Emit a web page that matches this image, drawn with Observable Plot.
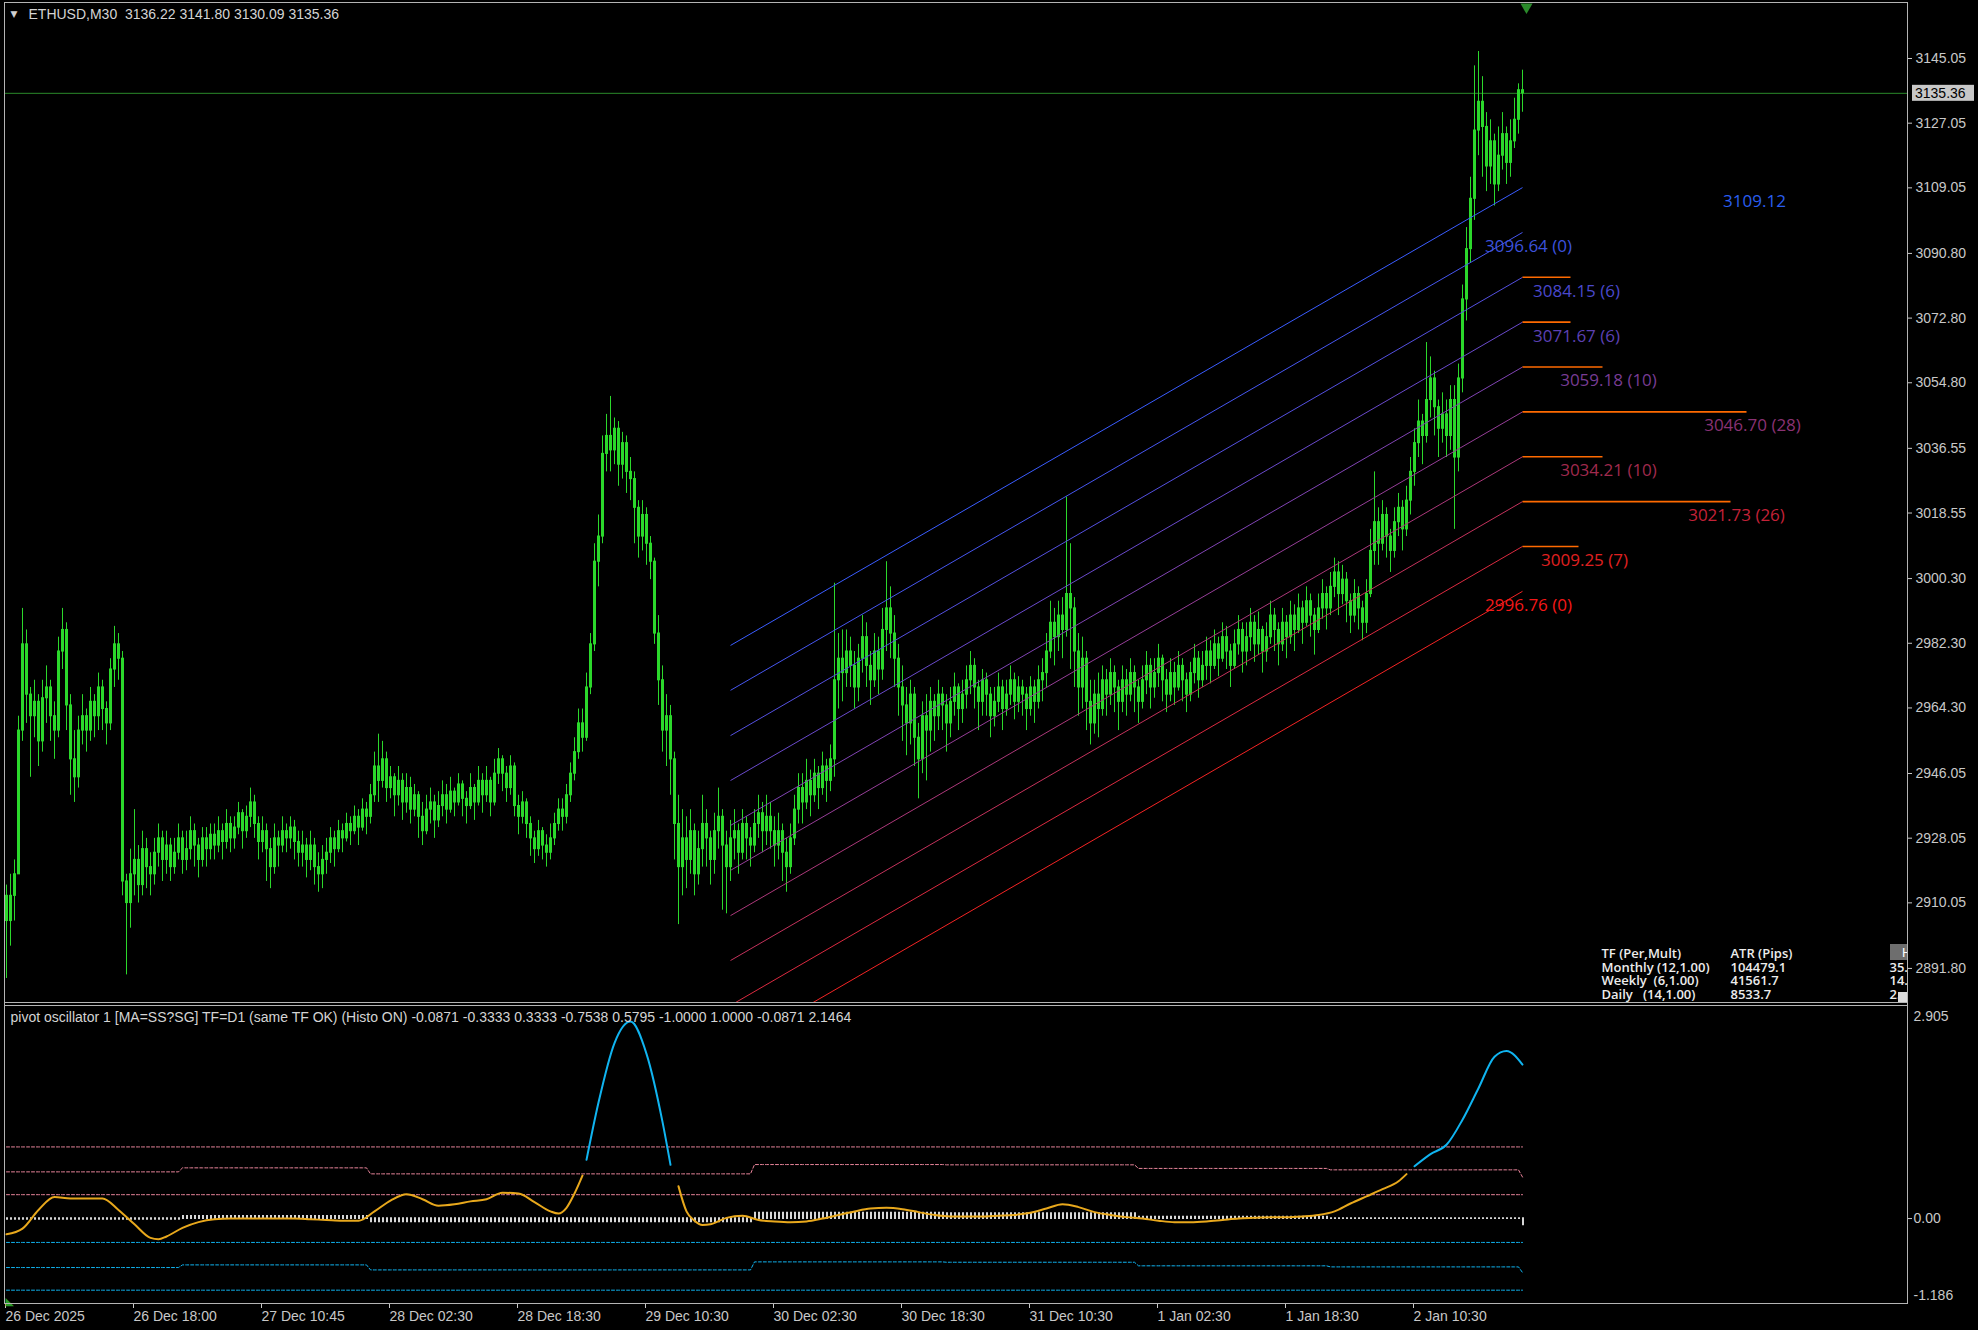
<!DOCTYPE html>
<html><head><meta charset="utf-8">
<script src="https://cdn.jsdelivr.net/npm/d3@7"></script>
<script src="https://cdn.jsdelivr.net/npm/@observablehq/plot@0.6"></script>
<style>
html,body{margin:0;padding:0;background:#000;}
#wrap{position:relative;width:1978px;height:1330px;background:#000;overflow:hidden;}
#wrap svg{position:absolute;left:0;}
.ln{position:absolute;background:#b4b4b4;}
</style></head><body><div id="wrap"></div>
<script>
// ---------------- data ----------------
const symbolName = "ETHUSD,M30";
const timeLabels = ["26 Dec 2025","26 Dec 18:00","27 Dec 10:45","28 Dec 02:30","28 Dec 18:30","29 Dec 10:30","30 Dec 02:30","30 Dec 18:30","31 Dec 10:30","1 Jan 02:30","1 Jan 18:30","2 Jan 10:30"];
const timeTickBars = [0,32,64,96,128,160,192,224,256,288,320,352];
const priceTicks = [3145.05,3127.05,3109.05,3090.80,3072.80,3054.80,3036.55,3018.55,3000.30,2982.30,2964.30,2946.05,2928.05,2910.05,2891.80];
const priceRange = [2882.04, 3160.36];
const firstOpen = 2912;
const closes = [
2905,2912,2918,2958,2982,2968,2962,2966,2955,2967,
2970,2962,2958,2980,2986,2965,2950,2945,2958,2962,
2958,2966,2962,2970,2964,2960,2975,2982,2978,2916,
2910,2918,2922,2915,2925,2920,2918,2924,2928,2922,
2926,2920,2924,2928,2922,2925,2930,2926,2922,2928,
2925,2929,2926,2930,2927,2932,2928,2931,2935,2930,
2934,2938,2932,2927,2930,2925,2920,2928,2926,2930,
2928,2931,2927,2924,2926,2922,2926,2920,2918,2922,
2924,2928,2925,2930,2928,2932,2930,2934,2931,2936,
2934,2940,2948,2944,2950,2942,2945,2940,2944,2938,
2942,2936,2940,2934,2930,2936,2938,2933,2937,2940,
2936,2941,2938,2943,2939,2937,2942,2938,2944,2940,
2944,2938,2946,2950,2946,2942,2948,2937,2934,2938,
2932,2928,2925,2930,2926,2924,2928,2932,2936,2934,
2940,2946,2952,2960,2956,2970,2982,3005,3012,3035,
3040,3036,3042,3032,3038,3030,3028,3020,3012,3018,
3010,3005,2985,2972,2958,2962,2950,2932,2920,2928,
2922,2930,2918,2925,2932,2928,2922,2930,2934,2926,
2920,2928,2930,2924,2932,2928,2926,2932,2935,2930,
2934,2930,2926,2930,2924,2920,2928,2936,2942,2938,
2944,2940,2946,2942,2948,2944,2950,2972,2978,2974,
2980,2976,2970,2978,2984,2976,2972,2980,2975,2986,
2992,2985,2978,2970,2965,2960,2968,2956,2950,2962,
2958,2966,2962,2968,2965,2960,2966,2970,2964,2968,
2972,2976,2970,2966,2972,2968,2962,2966,2970,2964,
2968,2972,2966,2970,2968,2964,2970,2966,2972,2974,
2980,2988,2984,2990,2986,2996,2992,2980,2970,2978,
2966,2960,2968,2964,2972,2968,2974,2970,2966,2972,
2968,2974,2970,2966,2972,2976,2970,2974,2978,2972,
2968,2974,2970,2976,2972,2968,2974,2978,2972,2976,
2980,2976,2982,2978,2984,2980,2976,2982,2986,2980,
2984,2988,2982,2986,2980,2984,2990,2986,2982,2988,
2984,2990,2986,2992,2988,2994,2990,2986,2992,2996,
2992,2998,3002,2996,3000,2994,2990,2996,2992,2988,
2996,3008,3016,3010,3018,3012,3008,3016,3020,3014,
3022,3030,3038,3044,3040,3050,3056,3048,3042,3046,
3040,3050,3034,3056,3078,3092,3106,3125,3133,3126,
3115,3122,3110,3118,3124,3116,3122,3128,3136.22,3135.36];
const highs = [
2915,2918,2922,2962,2992,2986,2970,2972,2968,2972,
2976,2972,2966,2984,2992,2988,2968,2958,2962,2968,
2964,2970,2968,2974,2972,2966,2978,2987,2985,2980,
2918,2925,2936,2926,2930,2928,2924,2928,2932,2930,
2930,2928,2928,2932,2930,2930,2934,2932,2928,2931,
2931,2932,2932,2934,2932,2936,2934,2934,2938,2936,
2937,2942,2940,2934,2934,2932,2928,2932,2930,2934,
2932,2934,2933,2930,2930,2928,2930,2928,2924,2926,
2928,2931,2930,2933,2932,2935,2934,2937,2936,2939,
2938,2943,2952,2957,2955,2952,2948,2946,2948,2946,
2946,2945,2943,2941,2938,2940,2942,2940,2941,2944,
2943,2945,2942,2946,2944,2941,2946,2943,2948,2946,
2948,2945,2950,2953,2951,2948,2951,2949,2940,2941,
2939,2934,2930,2933,2931,2929,2932,2935,2939,2939,
2943,2949,2956,2964,2964,2974,2985,3010,3018,3040,
3046,3051,3045,3044,3041,3040,3034,3030,3022,3022,
3020,3012,3006,2990,2976,2968,2965,2952,2940,2936,
2934,2936,2932,2930,2940,2936,2930,2935,2942,2936,
2930,2933,2936,2932,2936,2934,2931,2936,2940,2938,
2940,2938,2934,2935,2932,2928,2932,2940,2946,2946,
2950,2947,2950,2948,2952,2950,2954,2999,2985,2986,
2986,2984,2980,2982,2990,2988,2980,2985,2984,2992,
3005,2998,2990,2982,2976,2970,2972,2970,2960,2966,
2968,2970,2968,2972,2970,2968,2970,2974,2971,2972,
2976,2980,2978,2972,2975,2974,2970,2970,2974,2972,
2972,2976,2974,2973,2972,2970,2973,2972,2976,2978,
2985,2994,2992,2994,2995,3023,3010,2995,2985,2984,
2980,2972,2972,2974,2976,2975,2978,2976,2972,2976,
2975,2978,2976,2972,2976,2980,2978,2978,2982,2979,
2975,2978,2977,2980,2978,2974,2977,2982,2980,2980,
2984,2983,2986,2984,2988,2987,2982,2986,2990,2988,
2988,2992,2990,2991,2987,2988,2994,2992,2988,2992,
2990,2994,2993,2996,2994,2998,2996,2992,2996,3000,
2998,3002,3006,3005,3004,3002,2996,3000,2998,2994,
3000,3014,3030,3020,3022,3020,3014,3020,3024,3022,
3026,3034,3042,3050,3046,3066,3062,3058,3050,3052,
3050,3054,3054,3060,3082,3098,3112,3143,3147,3140,
3130,3128,3124,3126,3130,3126,3128,3134,3138,3141.80];
const lows = [
2889,2898,2905,2918,2955,2960,2945,2956,2948,2952,
2960,2955,2950,2956,2975,2958,2940,2938,2942,2954,
2952,2955,2956,2958,2958,2954,2958,2970,2972,2912,
2890,2903,2912,2910,2912,2914,2912,2915,2920,2916,
2918,2916,2918,2922,2918,2919,2922,2920,2917,2920,
2920,2922,2922,2924,2922,2925,2924,2925,2929,2925,
2928,2931,2928,2922,2924,2916,2914,2918,2920,2924,
2924,2925,2922,2920,2920,2917,2919,2915,2913,2914,
2918,2921,2920,2924,2924,2927,2926,2929,2926,2930,
2929,2932,2938,2938,2942,2938,2939,2934,2937,2933,
2935,2932,2934,2928,2926,2929,2932,2928,2931,2934,
2932,2935,2934,2937,2934,2932,2936,2933,2937,2935,
2938,2934,2937,2943,2941,2938,2940,2934,2929,2932,
2928,2923,2921,2923,2922,2920,2922,2926,2930,2930,
2932,2938,2944,2950,2952,2955,2968,2980,2998,3010,
3030,3030,3032,3026,3028,3024,3022,3010,3006,3008,
3004,3000,2982,2965,2952,2948,2940,2922,2904,2912,
2914,2918,2912,2915,2920,2920,2915,2918,2925,2908,
2907,2916,2922,2918,2922,2922,2920,2924,2928,2924,
2926,2925,2920,2922,2916,2913,2918,2926,2932,2932,
2936,2934,2938,2936,2940,2938,2941,2945,2964,2966,
2970,2970,2964,2966,2974,2970,2965,2970,2968,2972,
2980,2978,2970,2962,2955,2951,2954,2948,2939,2946,
2944,2952,2955,2958,2958,2952,2956,2962,2958,2960,
2964,2968,2964,2958,2962,2962,2956,2959,2963,2958,
2962,2965,2961,2963,2962,2958,2962,2960,2964,2966,
2970,2978,2976,2980,2978,2984,2975,2970,2962,2964,
2958,2954,2957,2956,2962,2962,2965,2963,2958,2963,
2962,2966,2963,2960,2964,2968,2964,2967,2970,2966,
2963,2966,2965,2969,2966,2963,2966,2971,2967,2970,
2972,2971,2975,2973,2977,2975,2970,2975,2979,2974,
2976,2980,2977,2979,2974,2977,2982,2980,2976,2980,
2978,2982,2980,2985,2982,2987,2984,2979,2985,2989,
2986,2990,2995,2990,2993,2988,2985,2988,2986,2983,
2985,2995,3004,3004,3008,3006,3002,3006,3012,3008,
3012,3018,3026,3034,3032,3038,3045,3040,3034,3038,
3034,3036,3014,3030,3052,3072,3088,3100,3118,3112,
3108,3110,3104,3108,3114,3110,3112,3120,3124,3130.09];

// regression channel levels
const chanFromBar = 181, chanToBar = 379;
const chanStart = [2981.7,2969.2,2956.6,2944.1,2931.6,2919.1,2906.5,2894.0,2881.5,2869.0];
const chanEnd   = [3109.12,3096.64,3084.15,3071.67,3059.18,3046.70,3034.21,3021.73,3009.25,2996.76];
const chanCount = [null,0,6,6,10,28,10,26,7,0];
const barsPerCount = 2;
const chanLineColor  = ["#3a5cff","#4656f0","#5450e0","#6a4acc","#8044b4","#963e98","#ac387a","#c4325c","#dc2a40","#f42424"];
const chanLabelColor = ["#2a5ef0","#3c52dc","#4a48cc","#5c40b4","#783c94","#8a3274","#a02a4e","#c42238","#e02020","#f41818"];

// ATR table
const atrHead = ["TF (Per,Mult)","ATR (Pips)"];
const atrTF = ["Monthly (12,1.00)","Weekly  (6,1.00)","Daily   (14,1.00)"];
const atrPips = ["104479.1","41561.7","8533.7"];
const atrCut = ["35.","14.","2."];

// oscillator
const oscTitle = "pivot oscillator 1 [MA=SS?SG] TF=D1 (same TF OK) (Histo ON)";
const oscHeaderVals = [-0.0871,-0.3333,0.3333,-0.7538,0.5795,-1.0000,1.0000,-0.0871,2.1464];
const oscRange = [-1.186, 2.905];
const oscBar = [0,4,8,12,16,20,24,28,32,36,38,40,44,48,52,56,60,64,68,72,76,80,84,88,92,96,100,104,108,112,116,120,124,128,132,136,138,140,142,144,145,148,152,156,160,164,166,168,170,172,174,176,180,184,188,192,196,200,204,208,212,216,220,224,228,232,236,240,244,248,252,256,260,264,268,272,276,280,284,288,292,296,300,304,308,312,316,320,324,328,332,336,340,344,348,350,352,356,360,364,368,372,375,379];
const oscVal = [-0.22,-0.14,0.12,0.30,0.28,0.28,0.28,0.12,-0.08,-0.27,-0.29,-0.25,-0.13,-0.05,-0.01,0.0,0.0,0.0,0.0,0.0,-0.01,-0.02,-0.03,-0.03,0.10,0.25,0.34,0.27,0.18,0.20,0.24,0.27,0.36,0.35,0.23,0.10,0.07,0.15,0.35,0.60,0.82,1.62,2.45,2.75,2.30,1.35,0.75,0.45,0.10,-0.03,-0.09,-0.08,0.01,0.04,-0.02,-0.04,-0.05,-0.04,0.00,0.05,0.10,0.14,0.15,0.13,0.09,0.05,0.03,0.03,0.03,0.04,0.05,0.08,0.14,0.20,0.16,0.09,0.05,0.02,0.00,-0.03,-0.05,-0.05,-0.04,-0.02,0.00,0.01,0.02,0.02,0.03,0.05,0.10,0.21,0.31,0.41,0.52,0.62,0.73,0.90,1.03,1.38,1.82,2.26,2.34,2.15];
const dayStart = [0,44,91,139,187,235,283,331,379];
const dayPivot = [-0.010,0.030,-0.047,-0.047,0.075,0.070,0.020,0.000,-0.0871];
const dayR2 = [0.652,0.708,0.624,0.624,0.754,0.750,0.700,0.680,0.5795];
const dayS2 = [-0.684,-0.647,-0.717,-0.717,-0.605,-0.610,-0.660,-0.675,-0.7538];
const level1 = 0.3333, level3 = 1.0;

// ---------------- build ----------------
const FONT = "'Liberation Sans', Arial, sans-serif";
const GREEN = "#2bd82b", AXIS = "#c8c8c8", ORANGE = "#e8a81c", CYAN = "#10b4f0", PINK = "#e8849a";
const xDomain = [-0.25, 475.25];

const bars = closes.map((c, i) => ({i, o: i ? closes[i - 1] : firstOpen, h: highs[i], l: lows[i], c}));
const last = bars[bars.length - 1];
const lastIdx = last.i;
const chan = chanEnd.map((e, j) => ({j, s: chanStart[j], e, n: chanCount[j], line: chanLineColor[j], lab: chanLabelColor[j]}));
const headerText = `${symbolName}  ${[last.o, last.h, last.l, last.c].map(v => v.toFixed(2)).join(" ")}`;
const tableFont = {fill: "#ececec", fontSize: 13, fontWeight: 600, fontFamily: "'Open Sans', sans-serif", textAnchor: "start", lineAnchor: "top", lineHeight: 1.05, frameAnchor: "bottom-right", dy: -55};

const mainSvg = Plot.plot({
  width: 1978, height: 1005,
  marginLeft: 5, marginRight: 71, marginTop: 3, marginBottom: 2,
  style: {background: "#000", color: AXIS, fontFamily: FONT, fontSize: "14px"},
  x: {domain: xDomain, axis: null},
  y: {domain: priceRange, axis: null},
  color: {type: "identity"},
  marks: [
    Plot.axisY(priceTicks, {anchor: "right", tickSize: 4, tickPadding: 4, tickFormat: d => d.toFixed(2), label: null}),
    Plot.ruleY([last.c], {stroke: "#2a8a2a", strokeWidth: 1}),
    Plot.ruleX(bars, {x: "i", y1: d => Math.min(d.l, d.o, d.c), y2: d => Math.max(d.h, d.o, d.c), stroke: GREEN, strokeWidth: 1}),
    Plot.ruleX(bars, {x: "i", y1: d => Math.min(d.o, d.c) - 0.15, y2: d => Math.max(d.o, d.c) + 0.15, stroke: GREEN, strokeWidth: 3}),
    Plot.link(chan, {x1: () => chanFromBar, x2: () => chanToBar, y1: "s", y2: "e", stroke: "line", strokeWidth: 1, clip: true}),
    Plot.link(chan.filter(d => d.n > 0), {x1: () => chanToBar, x2: d => chanToBar + d.n * barsPerCount, y1: "e", y2: "e", stroke: "#ff6a00", strokeWidth: 1.6}),
    Plot.text(chan.filter(d => d.n != null), {x: d => chanToBar + d.n * barsPerCount + 1.5, y: "e", text: d => `${d.e.toFixed(2)} (${d.n})`, fill: "lab", dy: 14, fontSize: 17, fontFamily: "'Open Sans', sans-serif"}),
    Plot.text(chan.filter(d => d.n == null), {x: () => chanToBar, y: "e", text: d => d.e.toFixed(2), fill: "lab", dx: 232, dy: 14, fontSize: 17, fontFamily: "'Open Sans', sans-serif"}),
    Plot.text(["\u25BC"], {frameAnchor: "top-left", dx: 5, dy: 11, textAnchor: "start", lineAnchor: "middle", fill: "#d0d0d0", fontSize: 9, fontFamily: "'DejaVu Sans', sans-serif"}),
    Plot.text([headerText], {frameAnchor: "top-left", dx: 23, dy: 11, textAnchor: "start", lineAnchor: "middle", fill: "#d4d4d4", fontSize: 14}),
    Plot.dot([lastIdx + 1], {x: d => d, frameAnchor: "top", symbol: "triangle", rotate: 180, r: 4.5, dy: 3.5, fill: "#2a8a2a", stroke: "none"}),
    Plot.text([[atrHead[0], ...atrTF].join("\n")], {...tableFont, dx: -306}),
    Plot.text([[atrHead[1], ...atrPips].join("\n")], {...tableFont, dx: -177}),
    Plot.text([["", ...atrCut].join("\n")], {...tableFont, dx: -18, clip: true})
  ]
});

// oscillator data
const dayOf = i => { let d = 0; while (d + 1 < dayStart.length && dayStart[d + 1] <= i) d++; return d; };
const perBar = bars.map(b => { const d = dayOf(b.i); return {i: b.i, p: dayPivot[d], r2: dayR2[d], s2: dayS2[d]}; });
const oscPts = oscBar.map((i, k) => ({i, v: oscVal[k], hot: oscVal[k] > dayR2[dayOf(i)]}));
let seg = 0;
oscPts.forEach((d, k) => { if (k && d.hot !== oscPts[k - 1].hot) seg++; d.seg = seg; });
const oscHeader = `${oscTitle} ${oscHeaderVals.map(v => v.toFixed(4)).join(" ")}`;
const dash = "3,2";

const oscSvg = Plot.plot({
  width: 1978, height: 325,
  marginLeft: 5, marginRight: 71, marginTop: 5, marginBottom: 27,
  style: {background: "#000", color: AXIS, fontFamily: FONT, fontSize: "14px"},
  x: {domain: xDomain, axis: null},
  y: {domain: oscRange, axis: null},
  color: {type: "identity"},
  marks: [
    Plot.axisX(timeTickBars, {anchor: "bottom", tickSize: 5, tickPadding: 3, tickFormat: d => timeLabels[timeTickBars.indexOf(d)], textAnchor: "start", dx: -1, label: null}),
    Plot.axisY([0], {anchor: "right", tickSize: 4, tickPadding: 2, tickFormat: d => d.toFixed(2), label: null}),
    Plot.text([oscRange[1]], {frameAnchor: "top-right", text: d => d.toFixed(3), dx: 6, dy: 6, textAnchor: "start", lineAnchor: "middle"}),
    Plot.text([oscRange[0]], {frameAnchor: "bottom-right", text: d => d.toFixed(3), dx: 6, dy: -8, textAnchor: "start", lineAnchor: "middle"}),
    Plot.line(perBar, {x: "i", y: () => level3, stroke: PINK, strokeWidth: 1, strokeDasharray: dash}),
    Plot.line(perBar, {x: "i", y: "r2", stroke: PINK, strokeWidth: 1, strokeDasharray: dash}),
    Plot.line(perBar, {x: "i", y: () => level1, stroke: PINK, strokeWidth: 1, strokeDasharray: dash}),
    Plot.line(perBar, {x: "i", y: () => -level1, stroke: CYAN, strokeWidth: 1, strokeDasharray: dash}),
    Plot.line(perBar, {x: "i", y: "s2", stroke: CYAN, strokeWidth: 1, strokeDasharray: dash}),
    Plot.line(perBar, {x: "i", y: () => -level3, stroke: CYAN, strokeWidth: 1, strokeDasharray: dash}),
    Plot.ruleX(perBar, {x: "i", y1: d => Math.min(0, d.p) - 0.012, y2: d => Math.max(0, d.p) + 0.012, stroke: "#d6d6d6", strokeWidth: 2, dx: 0.5}),
    Plot.line(oscPts, {x: "i", y: "v", z: "seg", stroke: d => d.hot ? CYAN : ORANGE, strokeWidth: 2, curve: "monotone-x"}),
    Plot.text([oscHeader], {frameAnchor: "top-left", dx: 5, dy: 7, textAnchor: "start", lineAnchor: "middle", fill: "#d4d4d4", fontSize: 14}),
    Plot.text(["\u25E3"], {frameAnchor: "bottom-left", dx: 0, dy: 1, textAnchor: "start", lineAnchor: "bottom", fill: "#2a9a2a", fontSize: 11, fontFamily: "'DejaVu Sans', sans-serif"})
  ]
});

const wrap = document.getElementById("wrap");
mainSvg.style.top = "0px";
oscSvg.style.top = "1005px";
wrap.appendChild(mainSvg);
wrap.appendChild(oscSvg);

// current price tag and MT panel widgets
const fr = 1978 - 71, fb = 1005 - 2;
const yv = mainSvg.scale("y").apply(last.c);
const sel = d3.select(mainSvg);
sel.append("rect").attr("x", fr + 5).attr("y", yv - 8).attr("width", 62).attr("height", 16).attr("fill", "#c8c8c8");
sel.append("text").attr("x", fr + 8).attr("y", yv).attr("dy", "0.35em").attr("text-anchor", "start").attr("fill", "#000").attr("font-size", 14).attr("font-family", FONT).text(last.c.toFixed(2));
sel.append("clipPath").attr("id", "frclip").append("rect").attr("x", 5).attr("y", 3).attr("width", fr - 5).attr("height", fb - 3);
const ui = sel.append("g").attr("clip-path", "url(#frclip)");
ui.append("rect").attr("x", fr - 17).attr("y", fb - 59).attr("width", 18).attr("height", 16).attr("fill", "#6e6e6e");
ui.append("text").attr("x", fr - 5).attr("y", fb - 51).attr("dy", "0.35em").attr("text-anchor", "start").attr("fill", "#fff").attr("font-size", 13).attr("font-family", FONT).text("H");
ui.append("rect").attr("x", fr - 9).attr("y", fb - 11).attr("width", 10).attr("height", 10).attr("fill", "#dcdcdc");

// frame lines
function ln(x, y, w, h) { const d = document.createElement("div"); d.className = "ln"; Object.assign(d.style, {left: x + "px", top: y + "px", width: w + "px", height: h + "px"}); wrap.appendChild(d); }
ln(4, 2, 1904, 1);
ln(4, 2, 1, 1302);
ln(fr, 2, 1, 1302);
ln(4, 1002, 1904, 1);
ln(4, 1005, 1904, 1);
ln(4, 1303, 1904, 1);
</script></body></html>
